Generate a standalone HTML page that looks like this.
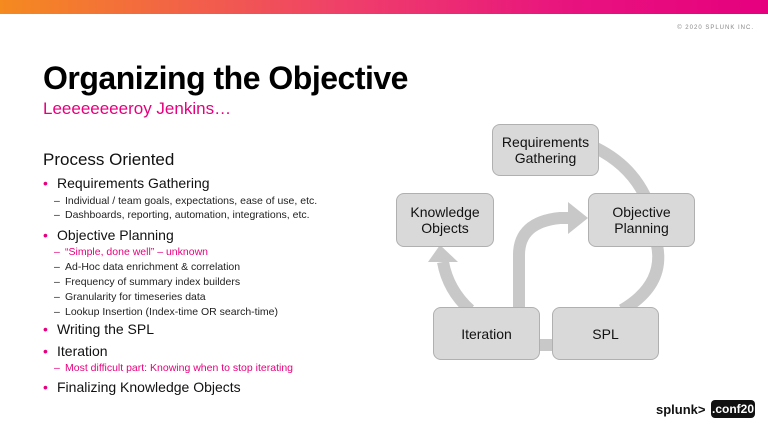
<!DOCTYPE html>
<html><head><style>
body{margin:0;width:768px;height:432px;overflow:hidden;background:#fff;font-family:"Liberation Sans",Arial,sans-serif;position:relative}
.bar{position:absolute;left:0;top:0;width:768px;height:14px;background:linear-gradient(90deg,#f58a1f 0%,#ef3f6a 45%,#e8127f 75%,#e6007e 100%)}
.t{position:absolute;white-space:nowrap}
.b{font-size:14px;color:#111}
.b:before{content:"•";color:#e6007e;position:absolute;left:-14px}
.s{font-size:10.5px;color:#222}
.s:before{content:"–";position:absolute;left:-11px}
.box{position:absolute;background:#d9d9d9;border:1px solid #b0b0b0;border-radius:8px;display:flex;align-items:center;justify-content:center;text-align:center;font-size:14px;line-height:16px;color:#111;box-sizing:border-box}
</style></head><body>
<div class="bar"></div>
<div class="t" style="right:14px;top:25px;font-size:6px;letter-spacing:1px;color:#888">© 2020 SPLUNK INC.</div>
<div class="t" style="left:43px;top:60px;font-size:32px;font-weight:bold;color:#000;letter-spacing:-0.5px">Organizing the Objective</div>
<div class="t" style="left:43px;top:99px;font-size:17px;color:#e6007e">Leeeeeeeeroy Jenkins…</div>
<div class="t" style="left:43px;top:150px;font-size:17px;color:#111">Process Oriented</div>
<div class="t b" style="left:57px;top:175px">Requirements Gathering</div>
<div class="t s" style="left:65px;top:195px">Individual / team goals, expectations, ease of use, etc.</div>
<div class="t s" style="left:65px;top:209px">Dashboards, reporting, automation, integrations, etc.</div>
<div class="t b" style="left:57px;top:227px">Objective Planning</div>
<div class="t s" style="left:65px;top:246px;color:#e6007e">“Simple, done well” – unknown</div>
<div class="t s" style="left:65px;top:261px">Ad-Hoc data enrichment &amp; correlation</div>
<div class="t s" style="left:65px;top:276px">Frequency of summary index builders</div>
<div class="t s" style="left:65px;top:291px">Granularity for timeseries data</div>
<div class="t s" style="left:65px;top:306px">Lookup Insertion (Index-time OR search-time)</div>
<div class="t b" style="left:57px;top:321px">Writing the SPL</div>
<div class="t b" style="left:57px;top:343px">Iteration</div>
<div class="t s" style="left:65px;top:362px;color:#e6007e">Most difficult part: Knowing when to stop iterating</div>
<div class="t b" style="left:57px;top:379px">Finalizing Knowledge Objects</div>

<svg style="position:absolute;left:0;top:0" width="768" height="432">
<g fill="none" stroke="#c8c8c8" stroke-width="12">
<path d="M596,148 Q630,165 645,196"/>
<path d="M657,245 Q665,285 622,310"/>
<path d="M538,345 L556,345"/>
<path d="M470,310 Q448,290 443,262"/>
<path d="M519,310 L519,255 Q519,222 560,218 L570,218"/>
</g>
<polygon points="428,262 458,262 440,245" fill="#c8c8c8"/>
<polygon points="568,202 568,234 588,218" fill="#c8c8c8"/>
</svg>
<div class="box" style="left:492px;top:124px;width:107px;height:52px">Requirements<br>Gathering</div>
<div class="box" style="left:396px;top:193px;width:98px;height:54px">Knowledge<br>Objects</div>
<div class="box" style="left:588px;top:193px;width:107px;height:54px">Objective<br>Planning</div>
<div class="box" style="left:433px;top:307px;width:107px;height:53px">Iteration</div>
<div class="box" style="left:552px;top:307px;width:107px;height:53px">SPL</div>

<div class="t" style="left:656px;top:402px;font-size:13px;font-weight:bold;color:#111">splunk&gt;</div>
<div class="t" style="left:711px;top:400px;width:44px;height:18px;background:#111;color:#fff;border-radius:4px;font-size:12px;font-weight:bold;text-align:center;line-height:18px">.conf20</div>
</body></html>
